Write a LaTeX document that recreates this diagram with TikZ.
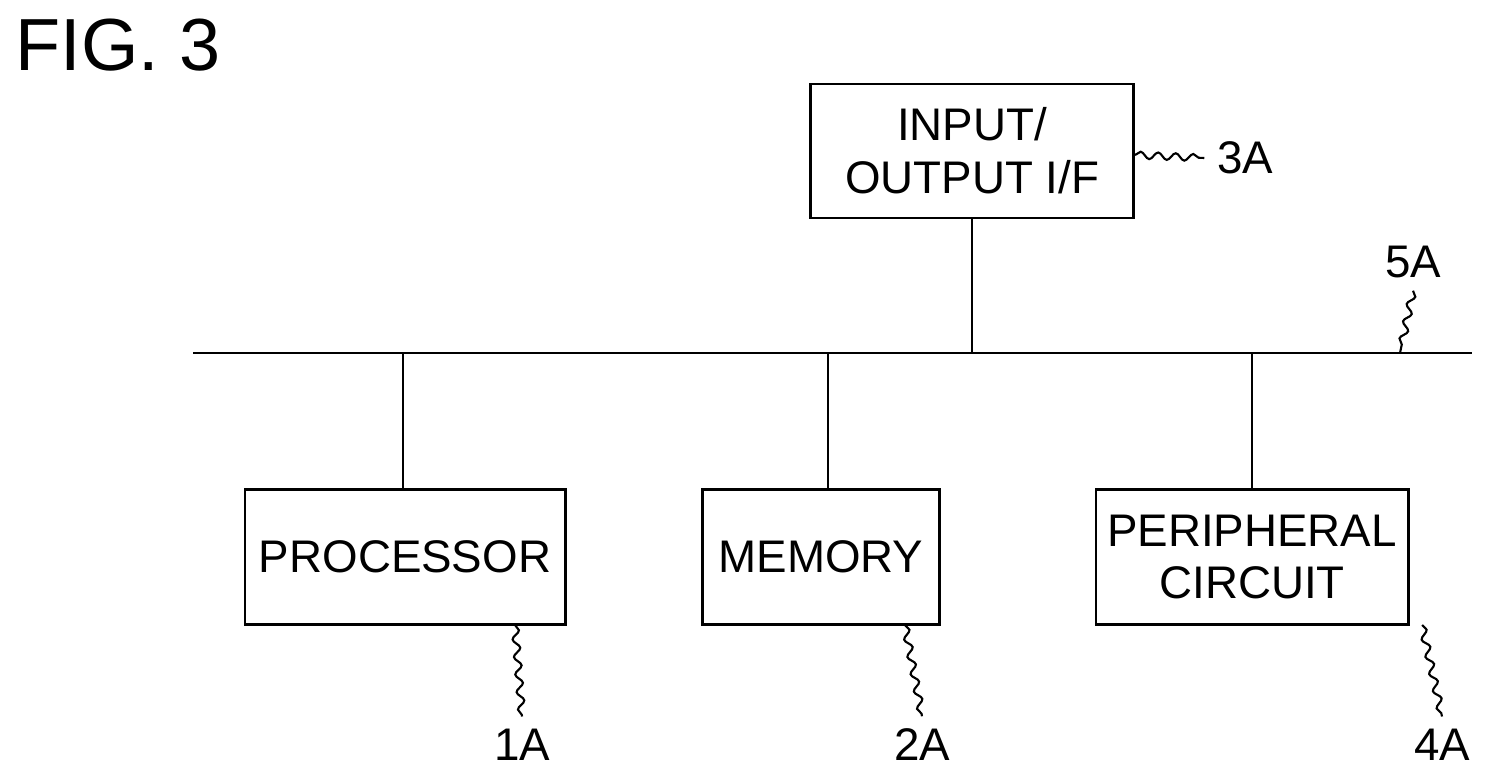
\documentclass[tikz,border=0pt]{standalone}
\usepackage{fontspec}
\setmainfont{Liberation Sans}
\usetikzlibrary{positioning, decorations.pathmorphing}

\begin{document}
\begin{tikzpicture}
[x=0.01cm,y=-0.01cm,semithick,
 block/.style={draw,thick,align=center,font=\fontsize{13}{15}\selectfont,inner sep=0pt},
 lbl/.style={font=\fontsize{13}{15}\selectfont},
 lead/.style={decorate,decoration={snake,amplitude=1pt,segment length=5pt}}]

\useasboundingbox (0,0) rectangle (1497,773);

\node[font=\fontsize{21}{24}\selectfont] (fig) at (118,45) {FIG. 3};

% blocks
\node[block,minimum width=3.23cm,minimum height=1.34cm] (io) at (972,151) {INPUT/\\OUTPUT I/F};
\node[block,minimum width=3.2cm,minimum height=1.35cm] (proc) at (405,557) {PROCESSOR};
\node[block,minimum width=2.37cm,minimum height=1.35cm] (mem) at (821,557) {MEMORY};
\node[block,minimum width=3.12cm,minimum height=1.35cm] (peri) at (1252,557) {PERIPHERAL\\CIRCUIT};

% bus
\coordinate (busL) at (193,353);
\coordinate (busR) at (1472,353);
\draw[thick] (busL) -- (busR);
\draw (io.south) -- (io.south |- busL);
\draw (proc.north -| 403,0) -- (403,353);
\draw (mem.north -| 828,0) -- (828,353);
\draw (peri.north) -- (peri.north |- busL);

% labels
\node[lbl] (l3a) at (1245,158) {3A};
\node[lbl] (l5a) at (1413,262) {5A};
\node[lbl] (l1a) at (522,745) {1A};
\node[lbl] (l2a) at (922,745) {2A};
\node[lbl] (l4a) at (1442,745) {4A};

\draw[lead] (io.east |- 0,155) -- (l3a.west);
\draw[lead] (l5a.south) -- (1400,353);
\draw[lead] (515,625) -- (l1a.north);
\draw[lead] (905,625) -- (l2a.north);
\draw[lead] (1422,625) -- (l4a.north);
\end{tikzpicture}
\end{document}
